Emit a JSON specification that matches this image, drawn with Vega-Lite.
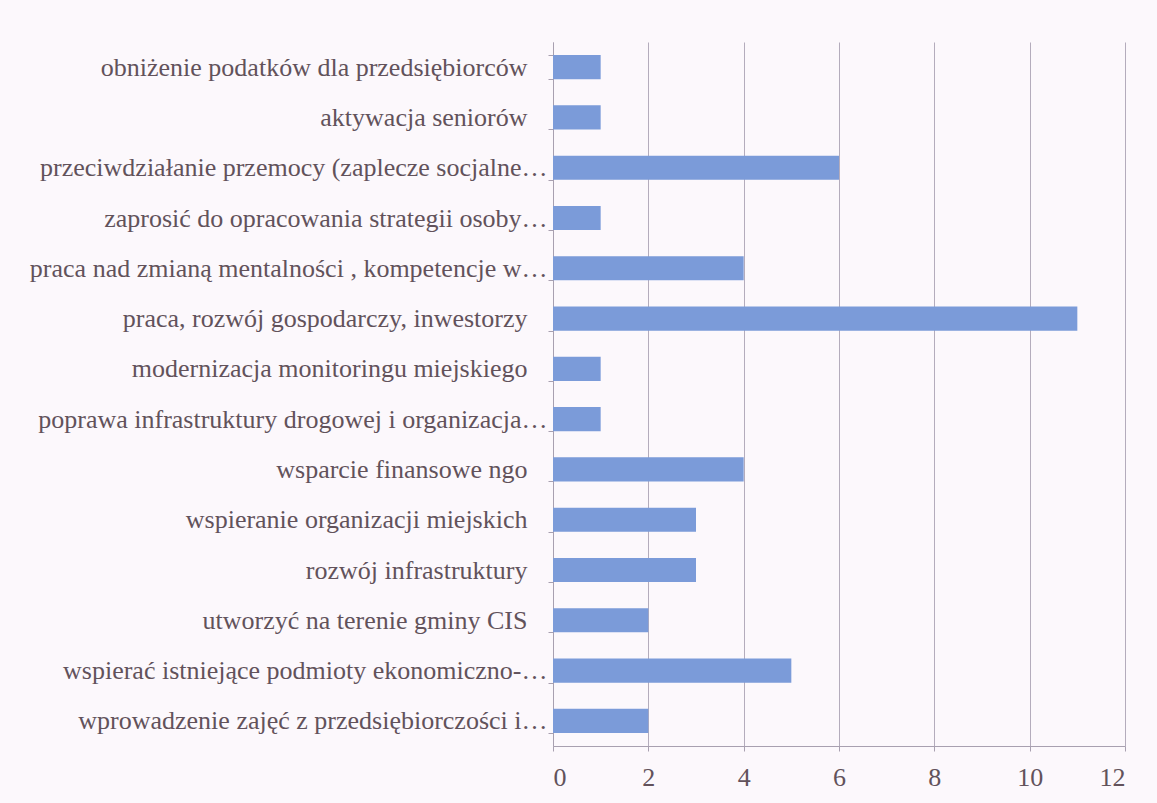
{
  "$schema": "https://vega.github.io/schema/vega-lite/v6.json",
  "autosize": {"type": "none"},
  "width": 572,
  "height": 704,
  "padding": {"left": 553, "top": 42, "right": 32, "bottom": 57},
  "background": "#fcf8fc",
  "data": {
    "values": [
      {"category": "obniżenie podatków dla przedsiębiorców", "value": 1},
      {"category": "aktywacja seniorów", "value": 1},
      {"category": "przeciwdziałanie przemocy (zaplecze socjalne…", "value": 6},
      {"category": "zaprosić do opracowania strategii osoby…", "value": 1},
      {"category": "praca nad zmianą mentalności , kompetencje w…", "value": 4},
      {"category": "praca, rozwój gospodarczy, inwestorzy", "value": 11},
      {"category": "modernizacja monitoringu miejskiego", "value": 1},
      {"category": "poprawa infrastruktury drogowej i organizacja…", "value": 1},
      {"category": "wsparcie finansowe ngo", "value": 4},
      {"category": "wspieranie organizacji miejskich", "value": 3},
      {"category": "rozwój infrastruktury", "value": 3},
      {"category": "utworzyć na terenie gminy CIS", "value": 2},
      {"category": "wspierać istniejące podmioty ekonomiczno-…", "value": 5},
      {"category": "wprowadzenie zajęć z przedsiębiorczości i…", "value": 2}
    ]
  },
  "mark": {"type": "bar", "color": "#7b9bd9"},
  "encoding": {
    "y": {
      "field": "category",
      "type": "nominal",
      "sort": null,
      "scale": {"paddingInner": 0.52, "paddingOuter": 0.26},
      "axis": {
        "title": null,
        "labelFont": "Liberation Serif",
        "labelFontSize": 26,
        "labelColor": "#62525b",
        "labelLimit": 0,
        "labelPadding": {"expr": "indexof(datum.label, '…') >= 0 ? 1 : 21"},
        "domainColor": "#a8a0b0",
        "tickColor": "#a8a0b0",
        "tickBand": "extent",
        "tickSize": 5,
        "grid": false
      }
    },
    "x": {
      "field": "value",
      "type": "quantitative",
      "scale": {"domain": [0, 12], "nice": false},
      "axis": {
        "title": null,
        "values": [0, 2, 4, 6, 8, 10, 12],
        "labelFont": "Liberation Serif",
        "labelFontSize": 26,
        "labelColor": "#62525b",
        "labelPadding": 13,
        "domainColor": "#a8a0b0",
        "tickColor": "#a8a0b0",
        "tickSize": 5,
        "grid": true,
        "gridColor": "#b4acbc",
        "gridWidth": 1
      }
    }
  },
  "config": {"view": {"stroke": null}, "font": "Liberation Serif"}
}
